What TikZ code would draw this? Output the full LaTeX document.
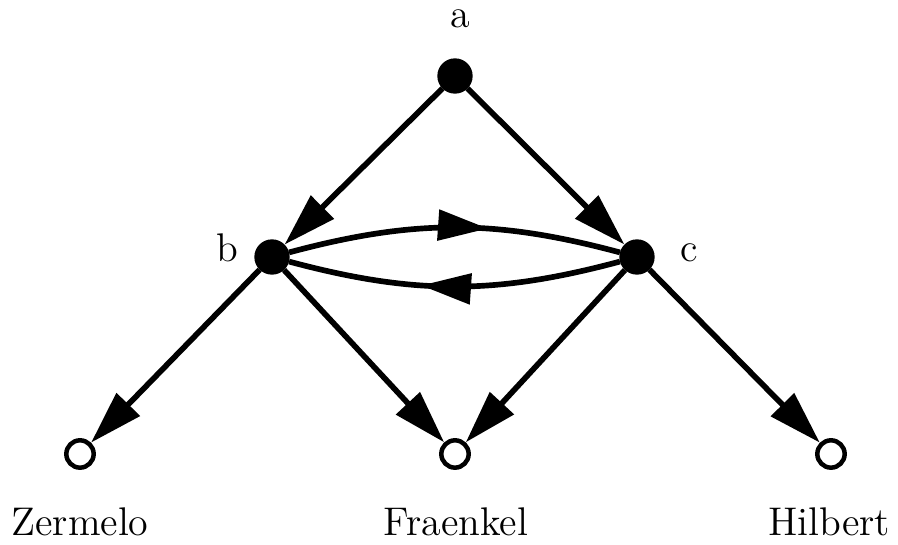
\documentclass[tikz,border=0pt]{standalone}
\usetikzlibrary{arrows.meta,decorations.markings}
\begin{document}
\begin{tikzpicture}[x=0.3pt,y=-0.3pt,
  full/.style={circle,fill=black,draw=black,inner sep=0pt,minimum size=10.2pt},
  open/.style={circle,draw=black,line width=1.35pt,fill=white,inner sep=0pt,minimum size=8.2pt},
  lbl/.style={font=\fontsize{12}{14}\selectfont,inner sep=0pt,anchor=base},
  edge/.style={line width=1.7pt,-{Triangle[length=16pt,width=9.5pt]}},
  midarrow/.style={line width=1.7pt,postaction={decorate},decoration={markings,
     mark=at position #1 with {\arrow{Triangle[length=15pt,width=9pt]}}}}
]
\useasboundingbox (0,0) rectangle (898,545);
\node[full] (a) at (455,76) {};
\node[full] (b) at (272,257) {};
\node[full] (c) at (637,257) {};
\node[open] (z) at (80,454) {};
\node[open] (f) at (455,454) {};
\node[open] (h) at (831,454) {};
\node[lbl] (la) at (460,28) {a};
\node[lbl] (lb) at (227,262) {b};
\node[lbl] (lc) at (689,262) {c};
\node[lbl] (lz) at (80,536) {Zermelo};
\node[lbl] (lf) at (456,536) {Fraenkel};
\node[lbl] (lh) at (829,536) {Hilbert};
\draw[edge] (a) -- (b);
\draw[edge] (a) -- (c);
\draw[edge] (b) -- (z);
\draw[edge] (b) -- (f);
\draw[edge] (c) -- (f);
\draw[edge] (c) -- (h);
\draw[midarrow=0.6] (b) to[bend left=15] (c);
\draw[midarrow=0.6] (c) to[bend left=15] (b);
\end{tikzpicture}
\end{document}
